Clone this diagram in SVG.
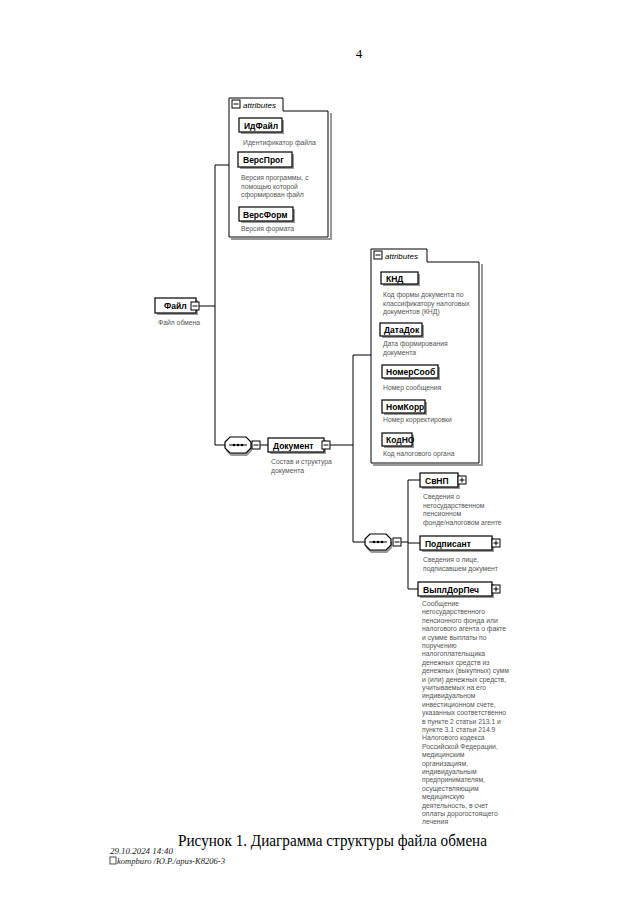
<svg xmlns="http://www.w3.org/2000/svg" width="640" height="903" viewBox="0 0 640 903">
<style>
.ln{stroke:#000;stroke-width:1;fill:none}
.nd{fill:#fff;stroke:#000;stroke-width:1.2}
.sh{fill:#9a9a9a}
.lb{font-family:"Liberation Sans",Arial,sans-serif;font-size:8.5px;font-weight:bold;fill:#000}
.ds{font-family:"Liberation Sans",Arial,sans-serif;font-size:6.8px;fill:#555}
.at{font-family:"Liberation Sans",Arial,sans-serif;font-size:8px;font-style:italic;fill:#000}
.bx{fill:#fff;stroke:#000;stroke-width:1}
.ft{font-family:"Liberation Serif","Times New Roman",serif;font-style:italic;font-size:9px;fill:#222}
</style>
<defs>
<g id="minus"><rect class="bx" x="0" y="0" width="8" height="8"/><line class="ln" x1="1.5" y1="4" x2="6.5" y2="4"/></g>
<g id="plus"><rect class="bx" x="0" y="0" width="8" height="8"/><line class="ln" x1="1.5" y1="4" x2="6.5" y2="4"/><line class="ln" x1="4" y1="1.5" x2="4" y2="6.5"/></g>
<g id="seq"><path class="sh" d="M5,2 H21 L26,7 V13 L21,18 H5 L0,13 V7 Z" transform="translate(1,1)"/><path class="nd" d="M5,0 H21 L26,5 V11 L21,16 H5 L0,11 V5 Z"/><line class="ln" x1="4" y1="8" x2="22" y2="8"/><circle cx="9" cy="8" r="1.3"/><circle cx="13" cy="8" r="1.3"/><circle cx="17" cy="8" r="1.3"/></g>
</defs>
<rect width="640" height="903" fill="#fff"/>
<text x="359" y="58" font-family="Liberation Serif,serif" font-size="13" text-anchor="middle">4</text>

<g id="connectors">
<polyline class="ln" points="199,306 215,306"/>
<polyline class="ln" points="229,165 215,165 215,445 225,445"/>
<line class="ln" x1="259" y1="445" x2="268" y2="445"/>
<line class="ln" x1="330" y1="445" x2="353" y2="445"/>
<polyline class="ln" points="371,355 353,355 353,542 365,542"/>
<line class="ln" x1="401" y1="542" x2="408" y2="542"/>
<polyline class="ln" points="420,480 408,480 408,589 418,589"/>
<line class="ln" x1="408" y1="543" x2="420" y2="543"/>
</g>

<g id="attributes1">
<path d="M331,113 V239 H231" stroke="#999" stroke-width="2" fill="none"/>
<path class="ln" d="M229,111 V98 H283 V111 H328 V237 H229 Z"/>
<use href="#minus" x="232" y="100"/>
<text class="at" x="243" y="108">attributes</text>
</g>
<g id="ИдФайл"><rect class="sh" x="241" y="120" width="43" height="14"/><rect class="nd" x="239" y="118" width="43" height="14"/><text class="lb" x="244" y="128.5">ИдФайл</text><text class="ds" x="243" y="145">Идентификатор файла</text></g>
<g id="ВерсПрог"><rect class="sh" x="240" y="154" width="54" height="15"/><rect class="nd" x="238" y="152" width="54" height="15"/><text class="lb" x="243" y="163">ВерсПрог</text><text class="ds" x="241" y="180">Версия программы, с</text><text class="ds" x="241" y="188.5">помощью которой</text><text class="ds" x="241" y="197">сформирован файл</text></g>
<g id="ВерсФорм"><rect class="sh" x="241" y="209" width="54" height="14"/><rect class="nd" x="239" y="207" width="54" height="14"/><text class="lb" x="243" y="217.5">ВерсФорм</text><text class="ds" x="241" y="231">Версия формата</text></g>

<g id="Файл"><rect class="sh" x="157" y="300" width="41" height="15"/><rect class="nd" x="155" y="298" width="41" height="15"/><text class="lb" x="164" y="309">Файл</text><use href="#minus" x="191" y="302"/><text class="ds" x="158" y="325">Файл обмена</text></g>

<g id="seq1"><use href="#seq" x="225" y="437"/><use href="#minus" x="252" y="441"/></g>
<g id="Документ"><rect class="sh" x="270" y="440" width="56" height="14"/><rect class="nd" x="268" y="438" width="56" height="14"/><text class="lb" x="273" y="448.5">Документ</text><use href="#minus" x="322" y="441"/><text class="ds" x="271" y="464">Состав и структура</text><text class="ds" x="271" y="472.5">документа</text></g>

<g id="attributes2">
<path d="M482,264 V465 H373" stroke="#999" stroke-width="2" fill="none"/>
<path class="ln" d="M371,262 V249 H427 V262 H479 V463 H371 Z"/>
<use href="#minus" x="374" y="251"/>
<text class="at" x="385" y="259">attributes</text>
</g>
<g id="КНД"><rect class="sh" x="383" y="274" width="37" height="12"/><rect class="nd" x="381" y="272" width="37" height="12"/><text class="lb" x="386" y="281.5">КНД</text><text class="ds" x="383" y="297">Код формы документа по</text><text class="ds" x="383" y="305.5">классификатору налоговых</text><text class="ds" x="383" y="314">документов (КНД)</text></g>
<g id="ДатаДок"><rect class="sh" x="382" y="325" width="42" height="13"/><rect class="nd" x="380" y="323" width="42" height="13"/><text class="lb" x="384" y="332.5">ДатаДок</text><text class="ds" x="383" y="346">Дата формирования</text><text class="ds" x="383" y="354.5">документа</text></g>
<g id="НомерСооб"><rect class="sh" x="384" y="367" width="56" height="13"/><rect class="nd" x="382" y="365" width="56" height="13"/><text class="lb" x="386" y="374.5">НомерСооб</text><text class="ds" x="383" y="390">Номер сообщения</text></g>
<g id="НомКорр"><rect class="sh" x="384" y="402" width="43" height="13"/><rect class="nd" x="382" y="400" width="43" height="13"/><text class="lb" x="386" y="409.5">НомКорр</text><text class="ds" x="383" y="422">Номер корректировки</text></g>
<g id="КодНО"><rect class="sh" x="384" y="435" width="30" height="13"/><rect class="nd" x="382" y="433" width="30" height="13"/><text class="lb" x="386" y="442.5">КодНО</text><text class="ds" x="383" y="456">Код налогового органа</text></g>

<g id="seq2"><use href="#seq" x="365" y="534"/><use href="#minus" x="393" y="538"/></g>
<g id="СвНП"><rect class="sh" x="422" y="475" width="38" height="14"/><rect class="nd" x="420" y="473" width="38" height="14"/><text class="lb" x="425" y="483.5">СвНП</text><use href="#plus" x="458" y="476"/><text class="ds" x="423" y="499">Сведения о</text><text class="ds" x="423" y="507.5">негосударственном</text><text class="ds" x="423" y="516">пенсионном</text><text class="ds" x="423" y="524.5">фонде/налоговом агенте</text></g>
<g id="Подписант"><rect class="sh" x="422" y="538" width="72" height="14"/><rect class="nd" x="420" y="536" width="72" height="14"/><text class="lb" x="425" y="546.5">Подписант</text><use href="#plus" x="492" y="539"/><text class="ds" x="423" y="562">Сведения о лице,</text><text class="ds" x="423" y="570.5">подписавшем документ</text></g>
<g id="ВыплДорПеч"><rect class="sh" x="420" y="584" width="74" height="14"/><rect class="nd" x="418" y="582" width="74" height="14"/><text class="lb" x="423" y="592.5">ВыплДорПеч</text><use href="#plus" x="492" y="585"/>
<text class="ds" x="422" y="606">
<tspan x="422" dy="0">Сообщение</tspan>
<tspan x="422" dy="8.4">негосударственного</tspan>
<tspan x="422" dy="8.4">пенсионного фонда или</tspan>
<tspan x="422" dy="8.4">налогового агента о факте</tspan>
<tspan x="422" dy="8.4">и сумме выплаты по</tspan>
<tspan x="422" dy="8.4">поручению</tspan>
<tspan x="422" dy="8.4">налогоплательщика</tspan>
<tspan x="422" dy="8.4">денежных средств из</tspan>
<tspan x="422" dy="8.4">денежных (выкупных) сумм</tspan>
<tspan x="422" dy="8.4">и (или) денежных средств,</tspan>
<tspan x="422" dy="8.4">учитываемых на его</tspan>
<tspan x="422" dy="8.4">индивидуальном</tspan>
<tspan x="422" dy="8.4">инвестиционном счете,</tspan>
<tspan x="422" dy="8.4">указанных соответственно</tspan>
<tspan x="422" dy="8.4">в пункте 2 статьи 213.1 и</tspan>
<tspan x="422" dy="8.4">пункте 3.1 статьи 214.9</tspan>
<tspan x="422" dy="8.4">Налогового кодекса</tspan>
<tspan x="422" dy="8.4">Российской Федерации,</tspan>
<tspan x="422" dy="8.4">медицинским</tspan>
<tspan x="422" dy="8.4">организациям,</tspan>
<tspan x="422" dy="8.4">индивидуальным</tspan>
<tspan x="422" dy="8.4">предпринимателям,</tspan>
<tspan x="422" dy="8.4">осуществляющим</tspan>
<tspan x="422" dy="8.4">медицинскую</tspan>
<tspan x="422" dy="8.4">деятельность, в счет</tspan>
<tspan x="422" dy="8.4">оплаты дорогостоящего</tspan>
<tspan x="422" dy="8.4">лечения</tspan>
</text></g>

<text x="178" y="846" font-family="Liberation Serif,'Times New Roman',serif" font-size="17" textLength="309" lengthAdjust="spacingAndGlyphs">Рисунок 1. Диаграмма структуры файла обмена</text>
<text class="ft" x="110" y="854" textLength="63" lengthAdjust="spacingAndGlyphs">29.10.2024 14:40</text>
<rect x="110" y="857" width="6" height="7" fill="none" stroke="#222" stroke-width="0.8"/>
<text class="ft" x="117" y="864" textLength="108" lengthAdjust="spacingAndGlyphs">kompburo /Ю.Р./apuз-K8206-3</text>
</svg>
